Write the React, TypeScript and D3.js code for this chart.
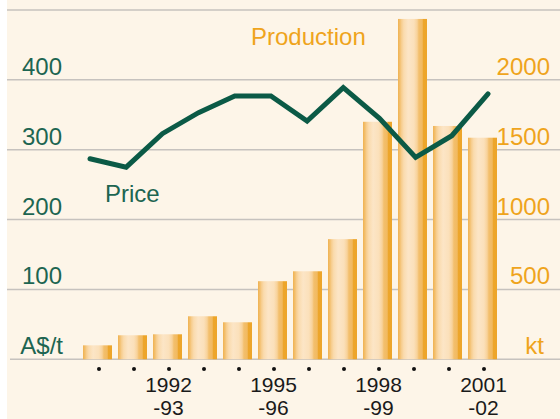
import React from "react";
import * as d3 from "d3";

const years = ["1990-91","1991-92","1992-93","1993-94","1994-95","1995-96","1996-97","1997-98","1998-99","1999-00","2000-01","2001-02"];
const production = [100, 172, 179, 308, 265, 559, 630, 860, 1700, 2436, 1670, 1586];
const price = [287, 275, 323, 353, 377, 377, 341, 389, 345, 289, 320, 380];
const leftTicks = [100, 200, 300, 400];
const rightTicks = [500, 1000, 1500, 2000];
const labelled = [
  { year: "1992-93", top: "1992", bottom: "-93" },
  { year: "1995-96", top: "1995", bottom: "-96" },
  { year: "1998-99", top: "1998", bottom: "-99" },
  { year: "2001-02", top: "2001", bottom: "-02" },
];

const W = 560, H = 419;
const FONT = "'Liberation Sans', Arial, sans-serif";
const GREEN = "#0B5A46";
const GREEN_TEXT = "#1D6551";
const ORANGE = "#EFA41C";

export default function App() {
  const yL = d3.scaleLinear().domain([0, 500]).range([359.3, 10]);
  const yR = d3.scaleLinear().domain([0, 2500]).range([359.3, 10]);
  const xBand = d3.scaleBand().domain(years).range([80, 500]).paddingInner(6 / 35).paddingOuter(3 / 35);
  const xLine = d3.scalePoint().domain(years).range([90, 488]);
  const bw = xBand.bandwidth();
  const line = d3.line<number>().x((_, i) => xLine(years[i])!).y((d) => yL(d));
  const grid = [0, 100, 200, 300, 400, 500];

  return (
    <svg width={W} height={H} style={{ position: "absolute", left: 0, top: 0, display: "block" }} fontFamily={FONT}>
      <defs>
        <linearGradient id="barg" x1="0" x2="1" y1="0" y2="0">
          <stop offset="0" stopColor="#F0B250" />
          <stop offset="0.07" stopColor="#F3C070" />
          <stop offset="0.12" stopColor="#F7CD8E" />
          <stop offset="0.2" stopColor="#FADBAE" />
          <stop offset="0.35" stopColor="#FCE5C6" />
          <stop offset="0.55" stopColor="#FBE0BA" />
          <stop offset="0.66" stopColor="#F8D29A" />
          <stop offset="0.72" stopColor="#F3BF6C" />
          <stop offset="0.84" stopColor="#F1B960" />
          <stop offset="0.86" stopColor="#EDA62B" />
          <stop offset="1" stopColor="#EDA52A" />
        </linearGradient>
      </defs>
      <rect x={0} y={0} width={W} height={H} fill="#ffffff" />
      <rect x={7} y={0} width={W - 7} height={H} fill="#FDF5E8" />
      {grid.map((g) => (
        <line key={g} x1={g === 0 ? 10 : 7} x2={W} y1={yL(g)} y2={yL(g)} stroke="#C6C2BE" strokeWidth={1.5} />
      ))}
      {years.map((yr, i) => (
        <rect key={yr} x={xBand(yr)} y={yR(production[i])} width={bw} height={yR(0) - yR(production[i])} fill="url(#barg)" />
      ))}
      <path d={line(price)!} fill="none" stroke={GREEN} strokeWidth={5} strokeLinejoin="miter" strokeLinecap="round" />
      {leftTicks.map((t) => (
        <text key={t} x={62} y={yL(t) - 5} textAnchor="end" fontSize={24} fill={GREEN_TEXT}>{t}</text>
      ))}
      <text x={63} y={yL(0) - 5} textAnchor="end" fontSize={24} fill={GREEN_TEXT}>A$/t</text>
      {rightTicks.map((t) => (
        <text key={t} x={550} y={yR(t) - 5} textAnchor="end" fontSize={24} fill={ORANGE}>{t}</text>
      ))}
      <text x={544} y={yR(0) - 5} textAnchor="end" fontSize={24} fill={ORANGE}>kt</text>
      <text x={105} y={202} fontSize={24} fill={GREEN_TEXT}>Price</text>
      <text x={251} y={45} fontSize={24} fill={ORANGE}>Production</text>
      {years.map((yr) => (
        <circle key={yr} cx={xBand(yr)! + bw / 2 + 1.5} cy={369} r={2} fill="#111" />
      ))}
      {labelled.map((l) => (
        <g key={l.year} fill="#1a1a1a" fontSize={21} textAnchor="middle">
          <text x={xBand(l.year)! + bw / 2 + 1} y={392}>{l.top}</text>
          <text x={xBand(l.year)! + bw / 2 + 1} y={415}>{l.bottom}</text>
        </g>
      ))}
    </svg>
  );
}
